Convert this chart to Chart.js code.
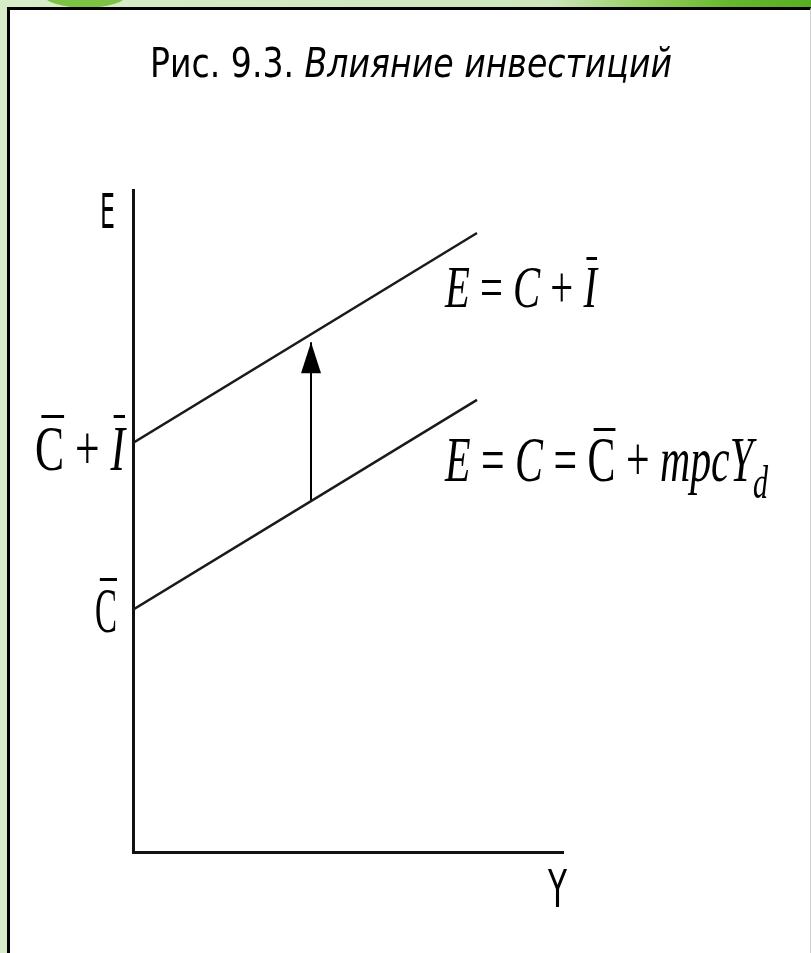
<!DOCTYPE html>
<html>
<head>
<meta charset="utf-8">
<script src="https://cdn.jsdelivr.net/npm/chart.js@4"></script>
<style>
  body { margin: 0; width: 811px; height: 953px; overflow: hidden; position: relative;
    background: linear-gradient(90deg, #d8ecca 0%, #cde7bb 68%, #93cd5e 80%, #66b72d 90%, #58ae22 100%); }
  #leaf { position: absolute; left: 42px; top: -22px; width: 86px; height: 30px; border-radius: 50%; background: #7cc243; }
  #frame { position: absolute; left: 7px; top: 7px; width: 800px; height: 943px; background: #fff;
    border-left: 3px solid #000; border-top: 3px solid #000; border-right: 1px solid #d0d0d0; border-bottom: 1px solid #d0d0d0; }
  #grafico { position: absolute; left: 0; top: 0; }
</style>
</head>
<body>
<div id="leaf"></div>
<div id="frame"></div>
<canvas id="grafico" width="811" height="953"></canvas>
<script>
// ejes (unidades arbitrarias)
const rangoX = [0, 10];
const rangoY = [0, 10];

// E = C + I
const invX = [0, 8];
const invY = [6.18, 9.35];

// E = C = C + mpcYd
const consX = [0, 8];
const consY = [3.66, 6.83];

// flecha del desplazamiento
const flechaX = [4.14, 4.14];
const flechaY = [5.30, 7.70];

const puntos = (xs, ys) => xs.map((x, i) => ({ x: x, y: ys[i] }));

// texto escalado a un ancho dado
function textoAjustado(ctx, partes, x, base, ancho, tam, barra) {
  let total = 0;
  partes.forEach(p => {
    ctx.font = fuente(p, tam);
    p.w = ctx.measureText(p.s).width;
    total += p.w;
  });
  const sx = ancho / total;
  ctx.save();
  ctx.translate(x, base);
  ctx.scale(sx, 1);
  ctx.fillStyle = "#000";
  ctx.textBaseline = "alphabetic";
  let cx = 0;
  partes.forEach(p => {
    ctx.font = fuente(p, tam);
    ctx.fillText(p.s, cx, p.sub ? tam * 0.27 : 0);
    if (p.bar) {
      ctx.fillRect(cx + p.w * 0.22, -barra, p.w * 0.78, 3);
    }
    cx += p.w;
  });
  ctx.restore();
}

function fuente(p, tam) {
  const t = p.sub ? tam * 0.72 : tam;
  return (p.it ? "italic " : "") + t + "px " + (p.sans ? "'DejaVu Sans'" : "'Liberation Serif'");
}

const textos = {
  id: "textos",
  afterDraw(chart) {
    const ctx = chart.ctx;
    textoAjustado(ctx, [{ s: "Рис. 9.3. ", sans: true }, { s: "Влияние инвестиций", sans: true, it: true }], 150, 77, 522, 41, 0);
    textoAjustado(ctx, [{ s: "E", sans: true }], 100, 228, 15, 48, 0);
    textoAjustado(ctx, [{ s: "Y", sans: true }], 548, 907, 19, 51, 0);

    textoAjustado(ctx, [{ s: "C", bar: true }, { s: " + " }, { s: "I", it: true, bar: true }], 35, 470, 90, 64, 55);
    textoAjustado(ctx, [{ s: "C", bar: true }], 95, 632, 22, 64, 54);

    textoAjustado(ctx, [{ s: "E", it: true }, { s: " = " }, { s: "C", it: true }, { s: " + " }, { s: "I", it: true, bar: true }],
      445, 307, 152, 59, 50);
    textoAjustado(ctx, [{ s: "E", it: true }, { s: " = " }, { s: "C", it: true }, { s: " = " }, { s: "C", bar: true },
      { s: " + " }, { s: "mpcY", it: true }, { s: "d", it: true, sub: true }], 445, 481, 323, 63, 53);
  }
};

// punta de flecha
const punta = {
  id: "punta",
  afterDatasetsDraw(chart) {
    const meta = chart.getDatasetMeta(2);
    const p1 = meta.data[meta.data.length - 1];
    const ctx = chart.ctx;
    ctx.save();
    ctx.fillStyle = "#000";
    ctx.beginPath();
    ctx.moveTo(p1.x, p1.y);
    ctx.lineTo(p1.x - 10, p1.y + 31);
    ctx.lineTo(p1.x + 10, p1.y + 31);
    ctx.closePath();
    ctx.fill();
    ctx.restore();
  }
};

const ctx = document.getElementById("grafico").getContext("2d");

const grafico = new Chart(ctx, {
  type: "scatter",
  data: {
    datasets: [
      { data: puntos(invX, invY), showLine: true, borderColor: "#1a1a1a", borderWidth: 2.5, pointRadius: 0 },
      { data: puntos(consX, consY), showLine: true, borderColor: "#1a1a1a", borderWidth: 2.5, pointRadius: 0 },
      { data: puntos(flechaX, flechaY), showLine: true, borderColor: "#000", borderWidth: 2, pointRadius: 0 }
    ]
  },
  options: {
    responsive: false,
    animation: false,
    devicePixelRatio: 1,
    layout: { padding: { left: 133, right: 248, top: 190, bottom: 101 } },
    plugins: { legend: { display: false }, tooltip: { enabled: false } },
    scales: {
      x: {
        type: "linear", min: rangoX[0], max: rangoX[1],
        grid: { display: false, drawTicks: false },
        ticks: { display: false },
        border: { display: true, color: "#111", width: 3 }
      },
      y: {
        type: "linear", min: rangoY[0], max: rangoY[1],
        grid: { display: false, drawTicks: false },
        ticks: { display: false },
        border: { display: true, color: "#111", width: 3 }
      }
    }
  },
  plugins: [textos, punta]
});
</script>
</body>
</html>
